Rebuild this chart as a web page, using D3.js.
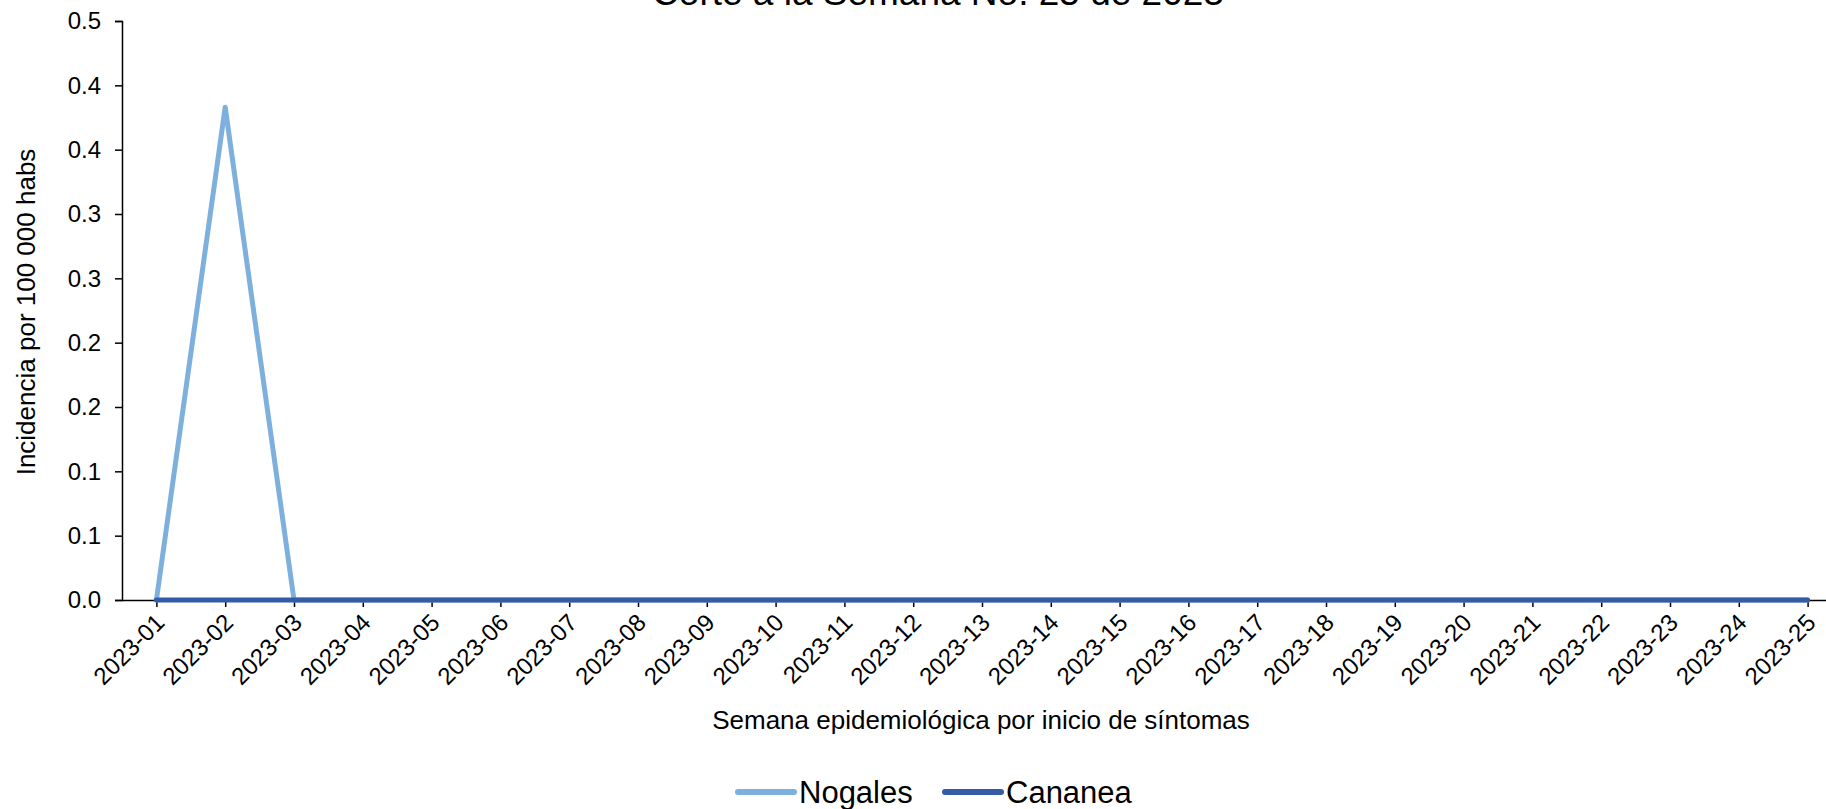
<!DOCTYPE html>
<html>
<head>
<meta charset="utf-8">
<script src="https://cdn.jsdelivr.net/npm/d3@7"></script>
<style>
    body { margin: 0; background: #fff; }
    text { font-family: "Liberation Sans", Arial, sans-serif; fill: #000; }
</style>
</head>
<body>
<div id="plot"></div>
<script>
// weeks shown on the x axis
const weeks = ["2023-01", "2023-02", "2023-03", "2023-04", "2023-05", "2023-06", "2023-07",
    "2023-08", "2023-09", "2023-10", "2023-11", "2023-12", "2023-13", "2023-14", "2023-15",
    "2023-16", "2023-17", "2023-18", "2023-19", "2023-20", "2023-21", "2023-22", "2023-23",
    "2023-24", "2023-25"];

// incidence per 100 000 inhabitants
const nogales = [0, 0.383, 0, 0, 0, 0, 0, 0, 0, 0, 0, 0, 0, 0, 0, 0, 0, 0, 0, 0, 0, 0, 0, 0, 0];
const cananea = [0, 0, 0, 0, 0, 0, 0, 0, 0, 0, 0, 0, 0, 0, 0, 0, 0, 0, 0, 0, 0, 0, 0, 0, 0];

// y ticks (labels as printed, one decimal)
const yTickValues = [0, 0.05, 0.1, 0.15, 0.2, 0.25, 0.3, 0.35, 0.4, 0.45];
const yTickLabels = ["0.0", "0.1", "0.1", "0.2", "0.2", "0.3", "0.3", "0.4", "0.4", "0.5"];

const seriesNames = ["Nogales", "Cananea"];
const seriesColors = ["#7eb0de", "#345ca6"];

const width = 1826, height = 809;

const svg = d3.select("#plot")
    .append("svg")
    .attr("width", width)
    .attr("height", height);

const xScale = d3.scalePoint()
    .domain(weeks)
    .range([122, 1842])
    .padding(0.5);

const yScale = d3.scaleLinear()
    .domain([0, 0.45])
    .range([600, 21]);

// y axis
const yAxis = svg.append("g")
    .attr("transform", "translate(122,0)")
    .call(d3.axisLeft(yScale)
        .tickValues(yTickValues)
        .tickFormat((d, i) => yTickLabels[i])
        .tickSize(7)
        .tickPadding(14));
yAxis.selectAll("text").style("font-size", "24px");

// x axis
const xAxis = svg.append("g")
    .attr("transform", "translate(0,600)")
    .call(d3.axisBottom(xScale).tickSize(7).tickSizeOuter(0));
xAxis.selectAll("text")
    .style("font-size", "24px")
    .attr("text-anchor", "end")
    .attr("dy", null)
    .attr("y", 0)
    .attr("transform", "translate(9,24) rotate(-45)");

svg.selectAll(".domain, .tick line")
    .attr("stroke", "#000")
    .attr("stroke-width", 1.5);

// lines
const line = d3.line()
    .x((d, i) => xScale(weeks[i]))
    .y(d => yScale(d));

[nogales, cananea].forEach((values, k) => {
    svg.append("path")
        .datum(values)
        .attr("fill", "none")
        .attr("stroke", seriesColors[k])
        .attr("stroke-width", 5)
        .attr("stroke-linejoin", "round")
        .attr("stroke-linecap", "round")
        .attr("d", line);
});

// titles
svg.append("text")
    .attr("x", 938)
    .attr("y", 5)
    .attr("text-anchor", "middle")
    .style("font-size", "37px")
    .text("Corte a la Semana No. 25 de 2023");

svg.append("text")
    .attr("transform", "translate(35,312) rotate(-90)")
    .attr("text-anchor", "middle")
    .style("font-size", "26px")
    .text("Incidencia por 100 000 habs");

svg.append("text")
    .attr("x", 981)
    .attr("y", 729)
    .attr("text-anchor", "middle")
    .style("font-size", "26px")
    .text("Semana epidemiológica por inicio de síntomas");

// legend
const legendX = [738, 945];
seriesNames.forEach((name, k) => {
    const g = svg.append("g").attr("transform", `translate(${legendX[k]},792)`);
    g.append("line")
        .attr("x1", 0).attr("x2", 56)
        .attr("stroke", seriesColors[k])
        .attr("stroke-width", 6)
        .attr("stroke-linecap", "round");
    g.append("text")
        .attr("x", 61)
        .attr("y", 11)
        .style("font-size", "31px")
        .text(name);
});
</script>
</body>
</html>
